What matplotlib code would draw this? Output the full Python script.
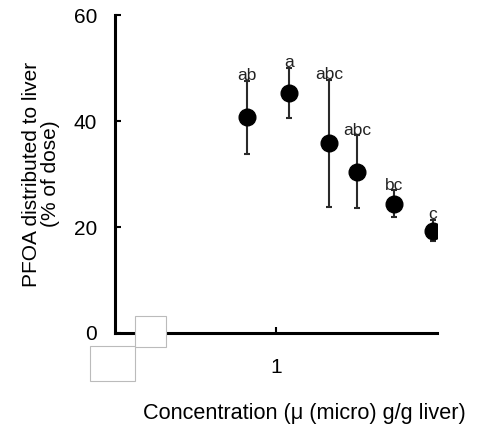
import numpy as np
import matplotlib
matplotlib.use("Agg")
from matplotlib import pyplot as plt
from matplotlib.patches import Rectangle

plt.rcParams['font.family'] = ['Liberation Sans', 'DejaVu Sans']

# data
conc = [0.66, 1.2, 2.14, 3.2, 5.4, 9.4]
liver_pct = [40.7, 45.3, 35.8, 30.4, 24.4, 19.3]
err = [6.9, 4.8, 12.0, 6.9, 2.5, 2.0]
letters = ['ab', 'a', 'abc', 'abc', 'bc', 'c']

fig = plt.figure(figsize=(4.79, 4.25), dpi=100)
ax = fig.add_axes([0.240, 0.2165, 0.672, 0.748])

ax.errorbar(conc, liver_pct, yerr=err, fmt='o', color='black', ms=12,
            ecolor='#2a2a2a', elinewidth=1.5, capsize=2.5, capthick=1.5, zorder=3)

# significance letters above the bars
for x, y, e, t in zip(conc, liver_pct, err, letters):
    ax.text(x, y + e + 1.0, t, ha='center', va='center', fontsize=12.5, color='#222222')

ax.set_xscale('log')
ax.set_xlim(0.1, 10)
ax.set_ylim(0, 60)
ax.set_xticks([1])
ax.set_xticklabels(['1'])
ax.xaxis.set_minor_locator(matplotlib.ticker.NullLocator())
ax.set_yticks([0, 20, 40, 60])

for s in ['top', 'right']:
    ax.spines[s].set_visible(False)
for s in ['left', 'bottom']:
    ax.spines[s].set_linewidth(2.2)

ax.tick_params(axis='y', direction='in', length=4, width=1.5, labelsize=15, pad=13)
ax.tick_params(axis='x', direction='in', length=4, width=1.5, labelsize=15, pad=18)

ax.set_ylabel('PFOA distributed to liver\n(% of dose)', fontsize=15, labelpad=10,
              linespacing=1.0)
fig.text(0.298, 1 - 413 / 425.0, 'Concentration (\u03bc (micro) g/g liver)', fontsize=15.6,
         ha='left', va='center')

# axis break boxes
W, H = 479.0, 425.0
for x0, y0, x1, y1 in [(135, 316, 166, 347), (90, 346, 135, 381)]:
    fig.patches.append(Rectangle((x0 / W, 1 - y1 / H), (x1 - x0) / W, (y1 - y0) / H,
                                 transform=fig.transFigure, facecolor='white',
                                 edgecolor='#bbbbbb', lw=0.8, zorder=5))

fig.savefig('out.png', dpi=100)
